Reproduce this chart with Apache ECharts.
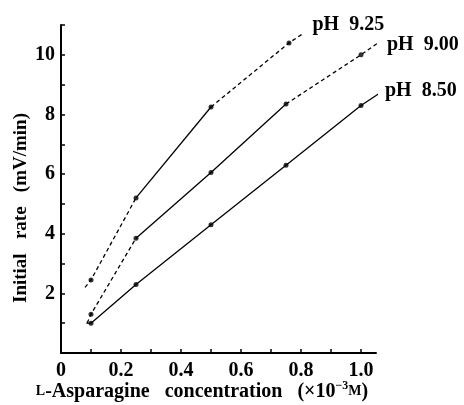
<!DOCTYPE html>
<html><head><meta charset="utf-8">
<script src="https://cdn.jsdelivr.net/npm/echarts@6/dist/echarts.min.js"></script>
<style>html,body{margin:0;padding:0;background:#fff}#c{width:464px;height:405px}</style>
</head><body><div id="c"></div>
<script>
// Data (x: L-asparagine concentration ×10^-3 M, y: initial rate mV/min)
const phLabels = ['pH  8.50', 'pH  9.00', 'pH  9.25'];
// pH 8.50
const x850 = [0.085, 0.1, 0.25, 0.5, 0.75, 1.0, 1.063];
const y850 = [1.0, 1.0, 2.3, 4.3, 6.3, 8.3, 8.72];
const seg850 = [[0, 6, 'solid']];
// pH 9.00
const x900 = [0.087, 0.1, 0.25, 0.5, 0.75, 1.0, 1.057];
const y900 = [1.0, 1.3, 3.85, 6.05, 8.35, 10.0, 10.4];
const seg900 = [[0, 2, 'dashed'], [2, 4, 'solid'], [4, 6, 'dashed']];
// pH 9.25
const x925 = [0.08, 0.1, 0.25, 0.5, 0.76, 0.805];
const y925 = [2.2, 2.45, 5.2, 8.25, 10.4, 10.7];
const seg925 = [[0, 2, 'dashed'], [2, 3, 'solid'], [3, 5, 'dashed']];
// measured points (indices into the arrays above)
const pts850 = [1, 2, 3, 4, 5];
const pts900 = [1, 2, 3, 4, 5];
const pts925 = [1, 2, 3, 4];
const xTickLabels = {0: '0', 2: '0.2', 4: '0.4', 6: '0.6', 8: '0.8', 10: '1.0'};
const yTickLabels = [2, 4, 6, 8, 10];

const FONT = "'Liberation Serif','DejaVu Serif',serif";
const series = [];
const groups = [
  {x: x850, y: y850, seg: seg850, pts: pts850, label: phLabels[0], off: [7, -3]},
  {x: x900, y: y900, seg: seg900, pts: pts900, label: phLabels[1], off: [9, 2]},
  {x: x925, y: y925, seg: seg925, pts: pts925, label: phLabels[2], off: [10, -9]}
];
groups.forEach(g => {
  g.seg.forEach((s, si) => {
    const data = [];
    for (let i = s[0]; i <= s[1]; i++) data.push([g.x[i], g.y[i]]);
    const last = si === g.seg.length - 1;
    series.push({
      type: 'line', data, symbol: 'none', silent: true, animation: false,
      lineStyle: {color: '#000', width: 1.3, type: s[2] === 'dashed' ? [4, 3] : 'solid'},
      endLabel: last ? {show: true, formatter: g.label, color: '#000', fontFamily: FONT,
        fontWeight: 'bold', fontSize: 20, distance: 0, offset: g.off} : undefined
    });
  });
  series.push({
    type: 'scatter', symbol: 'circle', symbolSize: 5, animation: false,
    itemStyle: {color: '#000'},
    data: g.pts.map(i => [g.x[i], g.y[i]])
  });
});

const chart = echarts.init(document.getElementById('c'));
chart.setOption({
  backgroundColor: '#fff',
  animation: false,
  grid: {left: 61, top: 25, width: 315, height: 328, containLabel: false, outerBoundsMode: 'none'},
  xAxis: {
    type: 'value', min: 0, max: 1.05, interval: 0.1,
    splitLine: {show: false},
    axisLine: {lineStyle: {color: '#000', width: 2}},
    axisTick: {inside: true, length: 4, lineStyle: {color: '#000', width: 1.5}},
    axisLabel: {
      color: '#000', fontFamily: FONT, fontWeight: 'bold', fontSize: 20, margin: 8,
      showMaxLabel: false,
      formatter: v => { const k = Math.round(v * 10); return (Math.abs(v * 10 - k) < 1e-6 && xTickLabels[k] !== undefined) ? xTickLabels[k] : ''; }
    },
    name: '{sc|L}-Asparagine   concentration   (×10{sup|−3}{sc|M})',
    nameLocation: 'middle', nameGap: 27, nameMoveOverlap: false,
    nameTextStyle: {
      color: '#000', fontFamily: FONT, fontWeight: 'bold', fontSize: 20, padding: [0, 33, 0, 0],
      rich: {
        sc: {fontFamily: FONT, fontWeight: 'bold', fontSize: 14, color: '#000'},
        sup: {fontFamily: FONT, fontWeight: 'bold', fontSize: 12, color: '#000', padding: [0, 0, 11, 0]}
      }
    }
  },
  yAxis: {
    type: 'value', min: 0, max: 11, interval: 1,
    splitLine: {show: false},
    axisLine: {lineStyle: {color: '#000', width: 2}},
    axisTick: {inside: true, length: 4, lineStyle: {color: '#000', width: 1.5}},
    axisLabel: {
      color: '#000', fontFamily: FONT, fontWeight: 'bold', fontSize: 20, margin: 6,
      formatter: v => yTickLabels.indexOf(v) >= 0 ? String(v) : ''
    },
    name: 'Initial   rate   (mV/min)',
    nameLocation: 'middle', nameGap: 30, nameMoveOverlap: false,
    nameTextStyle: {color: '#000', fontFamily: FONT, fontWeight: 'bold', fontSize: 19, padding: [0, 38, 0, 0]}
  },
  series
});
</script></body></html>
